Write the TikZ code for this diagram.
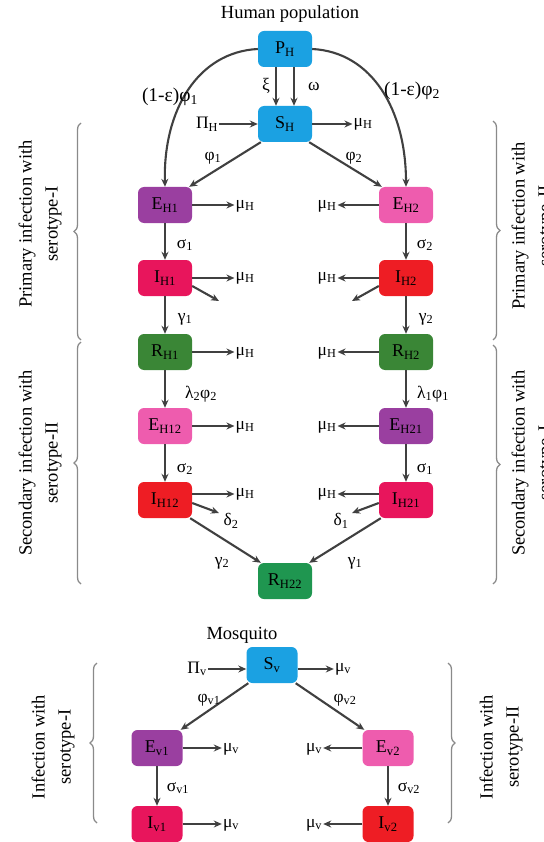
\documentclass[tikz,border=0pt]{standalone}
\usepackage{fontspec}
\setmainfont{Liberation Serif}
\usetikzlibrary{arrows.meta,decorations.pathreplacing}

\definecolor{cyanbox}{HTML}{1BA1E2}
\definecolor{purplebox}{HTML}{9A3FA0}
\definecolor{pinkbox}{HTML}{EE5CAE}
\definecolor{crimsonbox}{HTML}{E8155C}
\definecolor{redbox}{HTML}{EE1D24}
\definecolor{darkgreenbox}{HTML}{3A8636}
\definecolor{greenbox}{HTML}{1F9650}
\definecolor{arrowgray}{HTML}{404040}
\definecolor{bracegray}{HTML}{8A8A8A}

\newcommand{\sbs}[1]{\textsubscript{#1}}

\begin{document}
\begin{tikzpicture}[x=1pt,y=-1pt,
  comp/.style={rounded corners=6pt, minimum width=54pt, minimum height=36pt,
    inner sep=0pt, font=\fontsize{18}{21}\selectfont},
  lbl/.style={inner sep=1pt, font=\fontsize{17.5}{20}\selectfont},
  biglbl/.style={inner sep=1pt, font=\fontsize{19.5}{22}\selectfont},
  flow/.style={draw=arrowgray, line width=2.1pt, -{Stealth[length=8pt,width=7pt]}},
  grp/.style={draw=bracegray, line width=1.3pt, decorate,
    decoration={brace, amplitude=7pt}},
  side/.style={rotate=90, align=center, font=\fontsize{18.5}{26}\selectfont},
  heading/.style={font=\fontsize{18.5}{22}\selectfont}]
\useasboundingbox (0,0) rectangle (543,842);

% ---------------- Human population ----------------
\node[heading] (thuman) at (290,14) {Human population};

\node[comp, fill=cyanbox]      (PH)   at (285,49)  {P\sbs{H}};
\node[comp, fill=cyanbox]      (SH)   at (285,124) {S\sbs{H}};
\node[comp, fill=purplebox]    (EH1)  at (165,205) {E\sbs{H1}};
\node[comp, fill=pinkbox]      (EH2)  at (406,205) {E\sbs{H2}};
\node[comp, fill=crimsonbox]   (IH1)  at (165,278) {I\sbs{H1}};
\node[comp, fill=redbox]       (IH2)  at (406,278) {I\sbs{H2}};
\node[comp, fill=darkgreenbox] (RH1)  at (165,352) {R\sbs{H1}};
\node[comp, fill=darkgreenbox] (RH2)  at (406,352) {R\sbs{H2}};
\node[comp, fill=pinkbox]      (EH12) at (165,426) {E\sbs{H12}};
\node[comp, fill=purplebox]    (EH21) at (406,426) {E\sbs{H21}};
\node[comp, fill=redbox]       (IH12) at (165,500) {I\sbs{H12}};
\node[comp, fill=crimsonbox]   (IH21) at (406,500) {I\sbs{H21}};
\node[comp, fill=greenbox]     (RH22) at (285,581) {R\sbs{H22}};

% protection / waning between P_H and S_H
\draw[flow] ([xshift=-9pt]PH.south) -- ([xshift=-9pt]SH.north);
\draw[flow] ([xshift=9pt]PH.south) -- ([xshift=9pt]SH.north);
\node[lbl] (lxi) at (266,86) {ξ};
\node[lbl] (lom) at (314,86) {ω};

% recruitment and death of susceptibles
\node[lbl] (PiH) at (207,124) {Π\sbs{H}};
\node[lbl] (muS) at (363,124) {μ\sbs{H}};
\draw[flow] (PiH) -- (SH);
\draw[flow] (SH) -- (muS);

% direct infection of protected humans
\draw[flow] (PH.west) .. controls (198,52) and (163,110) .. (EH1.north);
\draw[flow] (PH.east) .. controls (372,52) and (406,110) .. (EH2.north);
\node[biglbl] (lpe1) at (170,97) {(1-ε)φ\sbs{1}};
\node[biglbl] (lpe2) at (412,91) {(1-ε)φ\sbs{2}};

% primary infection
\draw[flow] ([xshift=3pt]SH.south west) -- ([xshift=-3pt]EH1.north east);
\draw[flow] ([xshift=-3pt]SH.south east) -- ([xshift=3pt]EH2.north west);
\node[lbl] (lphi1) at (213,158) {φ\sbs{1}};
\node[lbl] (lphi2) at (354,158) {φ\sbs{2}};

% left chain
\draw[flow] (EH1) -- (IH1);
\draw[flow] (IH1) -- (RH1);
\draw[flow] (RH1) -- (EH12);
\draw[flow] (EH12) -- (IH12);
\node[lbl] (ls1)  at (185,245) {σ\sbs{1}};
\node[lbl] (lg1)  at (185,319) {γ\sbs{1}};
\node[lbl] (ll2)  at (201,394) {λ\sbs{2}φ\sbs{2}};
\node[lbl] (ls2b) at (185,469) {σ\sbs{2}};

% right chain
\draw[flow] (EH2) -- (IH2);
\draw[flow] (IH2) -- (RH2);
\draw[flow] (RH2) -- (EH21);
\draw[flow] (EH21) -- (IH21);
\node[lbl] (ls2)  at (425,245) {σ\sbs{2}};
\node[lbl] (lg2)  at (426,319) {γ\sbs{2}};
\node[lbl] (ll1)  at (433,394) {λ\sbs{1}φ\sbs{1}};
\node[lbl] (ls1b) at (425,469) {σ\sbs{1}};

% natural deaths, left column
\node[lbl] (mE1)  at (245,206) {μ\sbs{H}};
\node[lbl] (mI1)  at (245,278) {μ\sbs{H}};
\node[lbl] (mR1)  at (245,353) {μ\sbs{H}};
\node[lbl] (mE12) at (245,427) {μ\sbs{H}};
\node[lbl] (mI12) at (245,494) {μ\sbs{H}};
\draw[flow] (EH1) -- (EH1 -| mE1.west);
\draw[flow] (IH1) -- (mI1);
\draw[flow] (RH1) -- (RH1 -| mR1.west);
\draw[flow] (EH12) -- (EH12 -| mE12.west);
\draw[flow] ([yshift=6pt]IH12.east) -- (mI12);

% natural deaths, right column
\node[lbl] (mE2)  at (327,206) {μ\sbs{H}};
\node[lbl] (mI2)  at (327,278) {μ\sbs{H}};
\node[lbl] (mR2)  at (327,353) {μ\sbs{H}};
\node[lbl] (mE21) at (327,427) {μ\sbs{H}};
\node[lbl] (mI21) at (327,494) {μ\sbs{H}};
\draw[flow] (EH2) -- (EH2 -| mE2.east);
\draw[flow] (IH2) -- (mI2);
\draw[flow] (RH2) -- (RH2 -| mR2.east);
\draw[flow] (EH21) -- (EH21 -| mE21.east);
\draw[flow] ([yshift=6pt]IH21.west) -- (mI21);

% disease-induced deaths
\coordinate (dI1)  at (219,301);
\coordinate (dI2)  at (352,301);
\coordinate (dI12) at (219,513);
\coordinate (dI21) at (352,513);
\draw[flow] ([yshift=-8pt]IH1.east) -- (dI1);
\draw[flow] ([yshift=-8pt]IH2.west) -- (dI2);
\draw[flow] ([yshift=-3pt]IH12.east) -- (dI12);
\draw[flow] ([yshift=-3pt]IH21.west) -- (dI21);
\node[lbl] (ld2) at (231,521) {δ\sbs{2}};
\node[lbl] (ld1) at (341,521) {δ\sbs{1}};

% recovery after secondary infection
\draw[flow] ([xshift=-2pt]IH12.south east) -- ([xshift=3pt]RH22.north west);
\draw[flow] ([xshift=2pt]IH21.south west) -- ([xshift=-3pt]RH22.north east);
\node[lbl] (lg2b) at (222,563) {γ\sbs{2}};
\node[lbl] (lg1b) at (355,563) {γ\sbs{1}};

% grouping braces and side captions
\draw[grp] (81,340) -- (81,123);
\draw[grp] (81,584) -- (81,342);
\draw[grp] (493,121) -- (493,340);
\draw[grp] (493,345) -- (493,584);
\node[side] (cp1) at (40,224) {Primary infection with\\serotype-I};
\node[side] (cs2) at (40,463) {Secondary infection with\\serotype-II};
\node[side] (cp2) at (533,226) {Primary infection with\\serotype-II};
\node[side] (cs1) at (533,463) {Secondary infection with\\serotype-I};

% ---------------- Mosquito ----------------
\node[heading] (tmos) at (242,635) {Mosquito};

\node[comp, fill=cyanbox,    minimum width=51pt] (Sv)  at (272,665) {S\sbs{v}};
\node[comp, fill=purplebox,  minimum width=51pt] (Ev1) at (157,748) {E\sbs{v1}};
\node[comp, fill=pinkbox,    minimum width=51pt] (Ev2) at (388,748) {E\sbs{v2}};
\node[comp, fill=crimsonbox, minimum width=51pt] (Iv1) at (157,824) {I\sbs{v1}};
\node[comp, fill=redbox,     minimum width=51pt] (Iv2) at (388,824) {I\sbs{v2}};

\node[lbl] (Piv) at (197,669) {Π\sbs{v}};
\node[lbl] (mSv) at (343,669) {μ\sbs{v}};
\draw[flow] (Piv) -- ([yshift=-4pt]Sv.west);
\draw[flow] ([yshift=-4pt]Sv.east) -- (mSv);

\draw[flow] ([xshift=2pt]Sv.south west) -- ([xshift=-2pt]Ev1.north east);
\draw[flow] ([xshift=-2pt]Sv.south east) -- ([xshift=2pt]Ev2.north west);
\node[lbl] (lpv1) at (209,700) {φ\sbs{v1}};
\node[lbl] (lpv2) at (345,700) {φ\sbs{v2}};

\draw[flow] (Ev1) -- (Iv1);
\draw[flow] (Ev2) -- (Iv2);
\node[lbl] (lsv1) at (178,788) {σ\sbs{v1}};
\node[lbl] (lsv2) at (409,788) {σ\sbs{v2}};

\node[lbl] (mEv1) at (231,749) {μ\sbs{v}};
\node[lbl] (mEv2) at (314,749) {μ\sbs{v}};
\node[lbl] (mIv1) at (231,825) {μ\sbs{v}};
\node[lbl] (mIv2) at (314,825) {μ\sbs{v}};
\draw[flow] (Ev1) -- (Ev1 -| mEv1.west);
\draw[flow] (Ev2) -- (Ev2 -| mEv2.east);
\draw[flow] (Iv1) -- (Iv1 -| mIv1.west);
\draw[flow] (Iv2) -- (Iv2 -| mIv2.east);

\draw[grp] (97,823) -- (97,663);
\draw[grp] (448,663) -- (448,823);
\node[side] (cv1) at (53,747) {Infection with\\serotype-I};
\node[side] (cv2) at (501,747) {Infection with\\serotype-II};
\end{tikzpicture}
\end{document}
